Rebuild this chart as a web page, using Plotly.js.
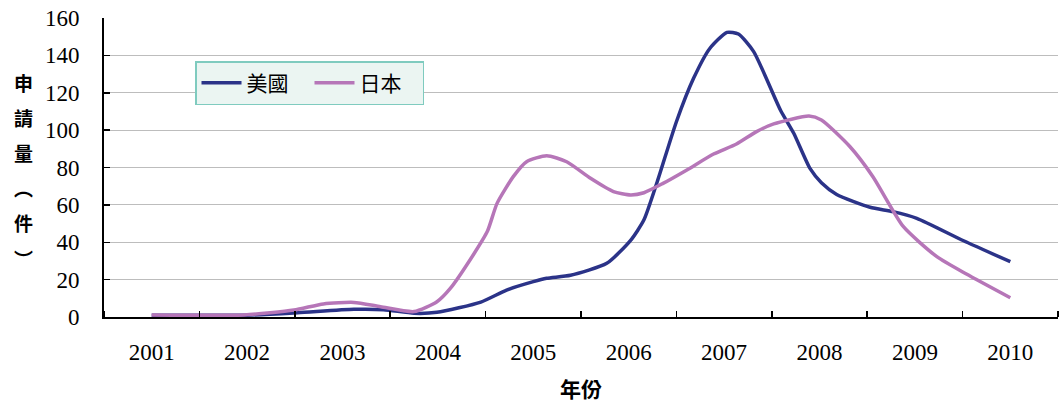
<!DOCTYPE html>
<html>
<head>
<meta charset="utf-8">
<script src="https://cdn.plot.ly/plotly-3.0.1.min.js"></script>
<style>html,body{margin:0;padding:0;background:#fff;}#chart{width:1059px;height:405px;}</style>
</head>
<body>
<div id="chart"></div>
<script>
// Category labels (years)
var years = [2001, 2002, 2003, 2004, 2005, 2006, 2007, 2008, 2009, 2010];
var yearLabels = ["2001","2002","2003","2004","2005","2006","2007","2008","2009","2010"];

// 美國 series (time in fractional years)
var usTime = [2001.0, 2002.0, 2002.53, 2003.12, 2003.43, 2003.75, 2003.99, 2004.45, 2004.72, 2005.0, 2005.14, 2005.39, 2005.77, 2006.02, 2006.16, 2006.30, 2006.50, 2006.68, 2006.85, 2007.03, 2007.15, 2007.31, 2007.59, 2007.73, 2007.90, 2008.02, 2008.18, 2008.53, 2008.77, 2009.02, 2009.51, 2010.0];
var usValues = [1, 1, 2.3, 4.1, 3.9, 2, 2.5, 8, 14.4, 18.9, 20.7, 22.3, 28.7, 41, 52, 72.5, 104.5, 127.7, 143.7, 152.3, 151.4, 142, 110.8, 98.3, 79.5, 71.9, 65.6, 58.7, 56.4, 52.8, 40.8, 29.6];

// 日本 series
var jpTime = [2001.0, 2001.97, 2002.49, 2002.80, 2003.12, 2003.40, 2003.75, 2003.99, 2004.13, 2004.38, 2004.52, 2004.62, 2004.79, 2004.93, 2005.14, 2005.35, 2005.60, 2005.84, 2006.02, 2006.16, 2006.36, 2006.61, 2006.89, 2007.13, 2007.34, 2007.52, 2007.89, 2008.02, 2008.32, 2008.56, 2008.88, 2009.23, 2009.54, 2010.0];
var jpValues = [1.1, 1.1, 3.7, 7, 7.8, 5.5, 2.9, 8.2, 15.3, 34, 46, 60.8, 75.1, 83.1, 86.3, 83.1, 74.2, 67.1, 65.3, 66.5, 71.5, 78.7, 87.2, 92.6, 99.2, 103.3, 107.5, 105.4, 91.1, 75.1, 48.3, 32.3, 23, 10.3];

var seriesNames = ["美國", "日本"];
var yTitleChars = ["申", "請", "量", "︵", "件", "︶"];
var xTitle = "年份";

var cjk = '"Noto Sans CJK TC", "Noto Sans CJK SC", sans-serif';
var serif = '"Liberation Serif", "Times New Roman", serif';

var traces = [
  {x: usTime, y: usValues, name: seriesNames[0], type: 'scatter', mode: 'lines',
   line: {color: '#2B3388', width: 3.5, shape: 'spline', smoothing: 0.6}},
  {x: jpTime, y: jpValues, name: seriesNames[1], type: 'scatter', mode: 'lines',
   line: {color: '#B676B8', width: 3.5, shape: 'spline', smoothing: 0.6}}
];

// plot area in px: left 104, right 1058, top 18, bottom 317
var T = 18, B = 317;
function py(pix){ return (B - pix) / (B - T); }

var annotations = [];
yTitleChars.forEach(function(ch, i){
  annotations.push({text: ch, xref: 'paper', yref: 'paper', x: (23 - 104) / 954, y: py(82 + i * 35.2),
    xanchor: 'center', yanchor: 'middle', showarrow: false,
    font: {family: cjk, size: 19, color: '#000', weight: 'bold'}});
});
annotations.push({text: xTitle, xref: 'paper', yref: 'paper', x: 0.5, y: py(388),
  xanchor: 'center', yanchor: 'middle', showarrow: false,
  font: {family: cjk, size: 21, color: '#000', weight: 'bold'}});

var layout = {
  width: 1059, height: 405,
  margin: {l: 104, r: 1, t: 18, b: 88},
  paper_bgcolor: '#fff', plot_bgcolor: '#fff',
  showlegend: true,
  legend: {orientation: 'h', x: (195 - 104) / 954, y: py(61), xanchor: 'left', yanchor: 'top',
    bgcolor: '#EBF5F2', bordercolor: '#7FCBBF', borderwidth: 1.5,
    font: {family: cjk, size: 21, color: '#000'}, itemwidth: 40,
    entrywidth: 58, entrywidthmode: 'pixels'},
  xaxis: {range: [2000.5, 2010.5], tickmode: 'array', tickvals: years, ticktext: yearLabels,
    ticks: '', showgrid: false, zeroline: false, showline: true, linecolor: '#000', linewidth: 2,
    tickfont: {family: serif, size: 23, color: '#000'}, ticklabelstandoff: 13,
    minor: {tick0: 2000.5, dtick: 1, ticks: 'inside', ticklen: 6, tickwidth: 1.5, tickcolor: '#000', showgrid: false}},
  yaxis: {range: [0, 160], dtick: 20, tick0: 0, ticks: 'inside', ticklen: 6, tickwidth: 1.5, tickcolor: '#000',
    showline: true, linecolor: '#000', linewidth: 2, showgrid: true, gridcolor: '#BDBDBD', gridwidth: 1.2,
    zeroline: false, tickfont: {family: serif, size: 23, color: '#000'}, ticklabelstandoff: 18},
  annotations: annotations
};

Plotly.newPlot('chart', traces, layout, {displayModeBar: false, staticPlot: true});
</script>
</body>
</html>
